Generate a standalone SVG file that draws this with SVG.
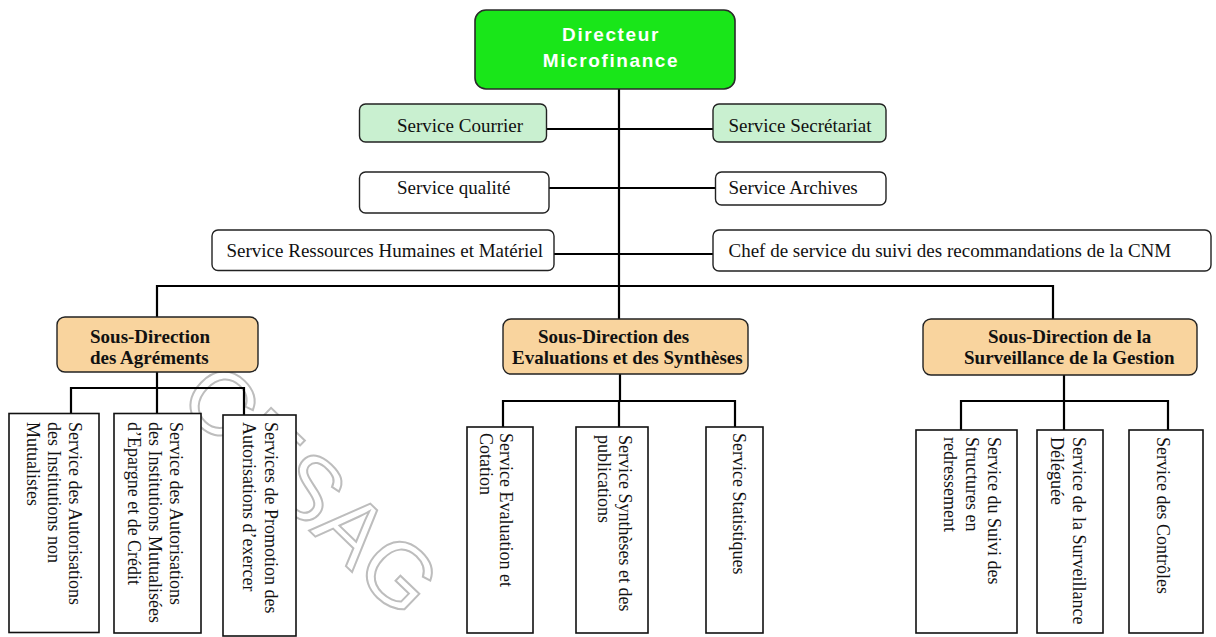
<svg xmlns="http://www.w3.org/2000/svg" width="1216" height="637" viewBox="0 0 1216 637">
<style>
.sv{font-family:"Liberation Serif","Times New Roman",serif;font-size:19px;fill:#111}
.vt{font-family:"Liberation Serif","Times New Roman",serif;font-size:18px;fill:#111}
.sd{font-family:"Liberation Serif","Times New Roman",serif;font-size:19px;font-weight:bold;fill:#111}
.box{stroke:#222;stroke-width:1.4}
.vb{fill:#fff;stroke:#111;stroke-width:1.6}
.cn{stroke:#000;stroke-width:2.2;fill:none}
.wm{font-family:"Liberation Sans",Arial,sans-serif;font-size:90px;fill:none;stroke:#bdbdbd;stroke-width:2}
.tt{font-family:"Liberation Sans",Arial,sans-serif;font-size:19px;font-weight:bold;letter-spacing:1.6px;fill:#fff}
</style>
<rect width="1216" height="637" fill="#fff"/>
<g id="watermark"><text class="wm" transform="translate(176,402) rotate(44)">CESAG</text></g>
<g id="connectors">
<path class="cn" d="M619 89V319"/>
<path class="cn" d="M547 129H713"/>
<path class="cn" d="M549 188H716"/>
<path class="cn" d="M554 254H713"/>
<path class="cn" d="M157 317V286H1053V319"/>
<path class="cn" d="M157 372V388M71 414V388H244V415M157 388V413"/>
<path class="cn" d="M620 374V401M503 427V401H735V427M619 401V427"/>
<path class="cn" d="M1064 375V401M961 430V401H1168V430M1064 401V430"/>
</g>
<g id="directeur">
<rect x="475" y="10" width="260" height="79" rx="11" fill="#19e619" stroke="#2a2a2a" stroke-width="1.6"/>
<text class="tt" x="611" y="41" text-anchor="middle">Directeur</text>
<text class="tt" x="611" y="67" text-anchor="middle">Microfinance</text>
</g>
<g id="courrier"><rect class="box" x="359.5" y="104" width="187" height="38" rx="6" fill="#c9f0d0"/><text class="sv" x="397" y="132">Service Courrier</text></g>
<g id="secretariat"><rect class="box" x="713" y="104" width="173" height="38" rx="6" fill="#c9f0d0"/><text class="sv" x="728.5" y="132">Service Secrétariat</text></g>
<g id="qualite"><rect class="box" x="359.5" y="172" width="189.5" height="41" rx="6" fill="#fff"/><text class="sv" x="397" y="194">Service qualité</text></g>
<g id="archives"><rect class="box" x="715.5" y="172" width="170.5" height="33" rx="6" fill="#fff"/><text class="sv" x="728.5" y="194">Service Archives</text></g>
<g id="rh"><rect class="box" x="212" y="230" width="342" height="40.5" rx="6" fill="#fff"/><text class="sv" x="226.5" y="257">Service Ressources Humaines et Matériel</text></g>
<g id="cnm"><rect class="box" x="713" y="230" width="498" height="41" rx="6" fill="#fff"/><text class="sv" x="728.5" y="257">Chef de service du suivi des recommandations de la CNM</text></g>
<g id="sd-agrements"><rect class="box" x="57" y="317" width="201" height="55" rx="8" fill="#f9d49e"/><text class="sd" x="90" y="343">Sous-Direction</text><text class="sd" x="90" y="364">des Agréments</text></g>
<g id="sd-evaluations"><rect class="box" x="503" y="319" width="245" height="55" rx="8" fill="#f9d49e"/><text class="sd" x="538" y="343">Sous-Direction des</text><text class="sd" x="512" y="364">Evaluations et des Synthèses</text></g>
<g id="sd-surveillance"><rect class="box" x="923" y="319" width="274" height="56" rx="8" fill="#f9d49e"/><text class="sd" x="988" y="343">Sous-Direction de la</text><text class="sd" x="964" y="364">Surveillance de la Gestion</text></g>
<g id="s-ainm"><rect class="vb" x="9" y="413.5" width="90" height="219"/><text class="vt" transform="translate(69,422) rotate(90)"><tspan x="0" y="0">Service des Autorisations</tspan><tspan x="0" y="21">des Institutions non</tspan><tspan x="0" y="42">Mutualistes</tspan></text></g>
<g id="s-aim"><rect class="vb" x="114" y="413.5" width="87" height="219.5"/><text class="vt" transform="translate(169.5,422) rotate(90)"><tspan x="0" y="0">Service des Autorisations</tspan><tspan x="0" y="21">des Institutions Mutualisées</tspan><tspan x="0" y="42">d’Epargne et de Crédit</tspan></text></g>
<g id="s-promo"><rect class="vb" x="223" y="415" width="73" height="221"/><text class="vt" transform="translate(265,422) rotate(90)"><tspan x="0" y="0">Services de Promotion des</tspan><tspan x="0" y="22">Autorisations d’exercer</tspan></text></g>
<g id="s-eval"><rect class="vb" x="467" y="427" width="66" height="206"/><text class="vt" transform="translate(499.5,433) rotate(90)"><tspan x="0" y="0">Service Evaluation et</tspan><tspan x="0" y="20">Cotation</tspan></text></g>
<g id="s-synth"><rect class="vb" x="576" y="427" width="72" height="206"/><text class="vt" transform="translate(618.5,435) rotate(90)"><tspan x="0" y="0">Service Synthèses et des</tspan><tspan x="0" y="21">publications</tspan></text></g>
<g id="s-stat"><rect class="vb" x="706" y="427" width="57" height="206"/><text class="vt" transform="translate(732.5,433) rotate(90)">Service Statistiques</text></g>
<g id="s-suivi"><rect class="vb" x="916" y="430" width="101" height="203"/><text class="vt" transform="translate(988,437) rotate(90)"><tspan x="0" y="0">Service du Suivi des</tspan><tspan x="0" y="22">Structures en</tspan><tspan x="0" y="44">redressement</tspan></text></g>
<g id="s-surv"><rect class="vb" x="1037" y="430" width="66" height="203"/><text class="vt" transform="translate(1073,437) rotate(90)"><tspan x="0" y="0">Service de la Surveillance</tspan><tspan x="0" y="22">Déléguée</tspan></text></g>
<g id="s-ctrl"><rect class="vb" x="1129" y="430" width="74" height="203"/><text class="vt" transform="translate(1157,437) rotate(90)">Service des Contrôles</text></g>
</svg>
